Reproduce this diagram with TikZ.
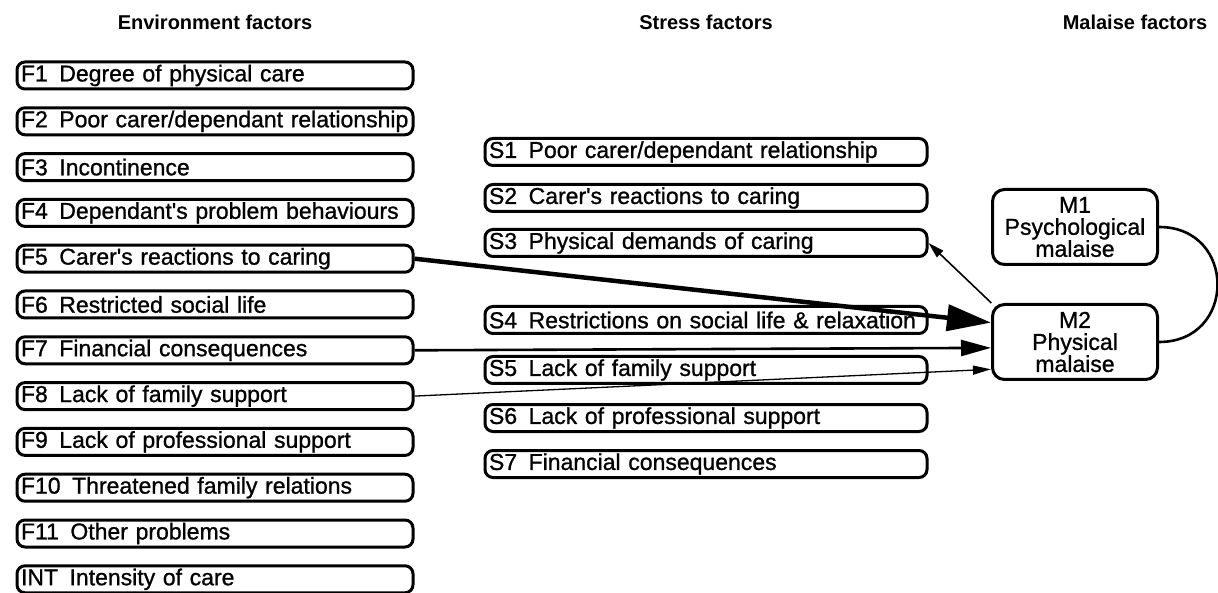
\documentclass[tikz,border=0pt]{standalone}
\usepackage{fontspec}
\setmainfont{Liberation Sans}
\newfontfamily\boxfont[FakeBold=1.0]{Liberation Sans}
\usetikzlibrary{arrows.meta}

\begin{document}
\begin{tikzpicture}[x=1pt,y=-1pt]
        \tikzstyle{head} = [font=\fontsize{20}{24}\selectfont\bfseries]
        \tikzstyle{factor} = [draw, line width=3pt, rounded corners=8pt, minimum height=27pt, inner xsep=4pt, inner ysep=0pt, align=left, anchor=west, font=\boxfont\fontsize{23}{26}\selectfont]
        \tikzstyle{envbox} = [factor, text width=388pt]
        \tikzstyle{strbox} = [factor, text width=434pt]
        \tikzstyle{malbox} = [draw, line width=3pt, rounded corners=12pt, minimum width=165pt, minimum height=75pt, inner sep=0pt, align=center, font=\boxfont\fontsize{23}{22}\selectfont]
        \tikzstyle{link} = [line width=1.3pt, -{Triangle[length=18pt, width=9pt]}]
        \useasboundingbox (0,0) rectangle (1218,593);
        % column headings
        \node[head] (envhead) at (215,22) {Environment factors};
        \node[head] (strhead) at (706,22) {Stress factors};
        \node[head] (malhead) at (1135,22) {Malaise factors};
        % environment factors
        \node[envbox] (f1) at (15.5,75.5) {F1\enspace Degree of physical care};
        \node[envbox] (f2) at (15.5,121.3) {F2\enspace Poor carer/dependant relationship};
        \node[envbox] (f3) at (15.5,167.1) {F3\enspace Incontinence};
        \node[envbox] (f4) at (15.5,212.9) {F4\enspace Dependant's problem behaviours};
        \node[envbox] (f5) at (15.5,258.7) {F5\enspace Carer's reactions to caring};
        \node[envbox] (f6) at (15.5,304.5) {F6\enspace Restricted social life};
        \node[envbox] (f7) at (15.5,350.3) {F7\enspace Financial consequences};
        \node[envbox] (f8) at (15.5,396.1) {F8\enspace Lack of family support};
        \node[envbox] (f9) at (15.5,441.9) {F9\enspace Lack of professional support};
        \node[envbox] (f10) at (15.5,487.7) {F10\enspace Threatened family relations};
        \node[envbox] (f11) at (15.5,533.5) {F11\enspace Other problems};
        \node[envbox] (int) at (15.5,579.3) {INT\enspace Intensity of care};
        % stress factors
        \node[strbox] (s1) at (483.5,152) {S1\enspace Poor carer/dependant relationship};
        \node[strbox] (s2) at (483.5,198) {S2\enspace Carer's reactions to caring};
        \node[strbox] (s3) at (483.5,243) {S3\enspace Physical demands of caring};
        \node[strbox] (s4) at (483.5,320) {S4\enspace Restrictions on social life \& relaxation};
        \node[strbox] (s5) at (483.5,370) {S5\enspace Lack of family support};
        \node[strbox] (s6) at (483.5,418) {S6\enspace Lack of professional support};
        \node[strbox] (s7) at (483.5,464) {S7\enspace Financial consequences};
        % malaise factors
        \node[malbox] (m1) at (1075,227) {M1\\Psychological\\malaise};
        \node[malbox] (m2) at (1075,342) {M2\\Physical\\malaise};
        % paths
        \draw[link, line width=4.5pt, -{Triangle[length=44pt, width=26pt]}] (f5.east) -- (m2.167);
        \draw[link, line width=2.6pt, -{Triangle[length=30pt, width=16pt]}] (f7.east) -- (m2.184);
        \draw[link] (f8.east) -- (m2.198);
        \draw[link, line width=1.6pt, -{Triangle[length=16pt, width=9pt]}] (m2.155) -- (s3.east);
        \draw[line width=2.6pt] (m1.east) .. controls +(78,0) and +(78,0) .. (m2.east);
    \end{tikzpicture}
\end{document}
